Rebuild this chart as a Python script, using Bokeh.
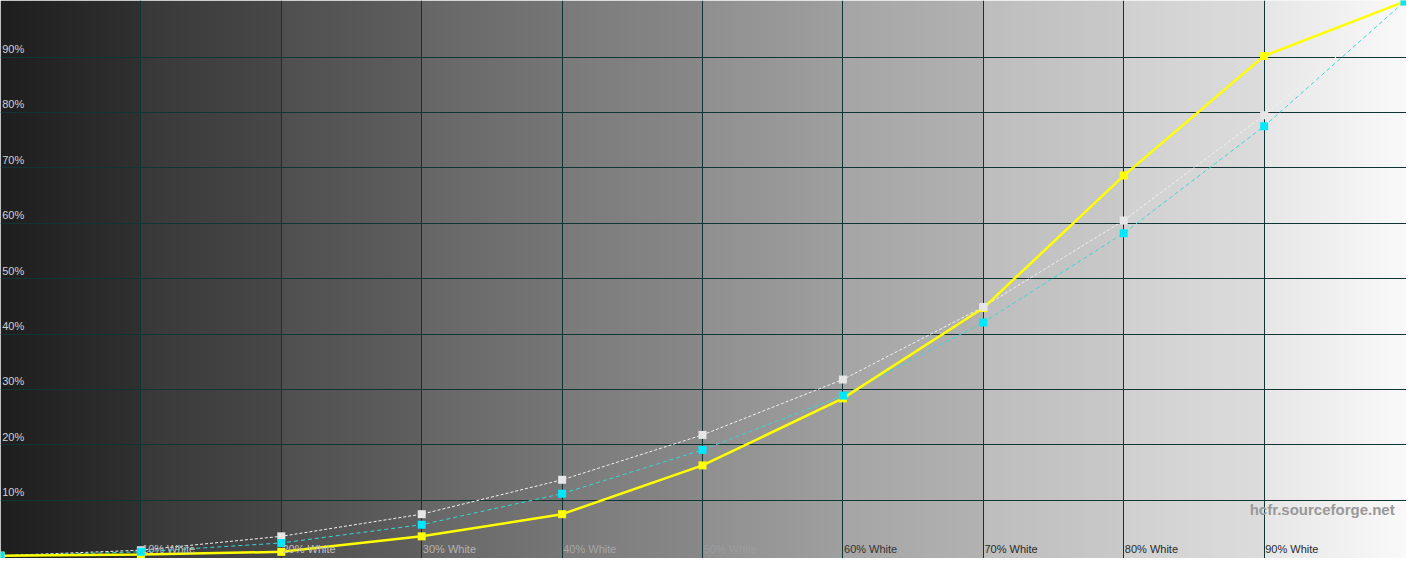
import numpy as np
from bokeh.plotting import figure
from bokeh.models import FixedTicker, ColumnDataSource, Label
from bokeh.core.properties import value
from bokeh.embed import file_html
from bokeh.resources import INLINE

# ---- data ----
levels = [0, 10, 20, 30, 40, 50, 60, 70, 80, 90, 100]
measured = [0, 0.2, 0.7, 3.5, 7.5, 16.3, 28.4, 44.7, 68.6, 90.2, 100]
reference_white = [0, 1.0, 3.5, 7.5, 13.7, 21.8, 31.8, 44.9, 60.5, 79.5, 100]
target_cyan = [0, 0.7, 2.3, 5.6, 11.2, 19.1, 28.9, 42.1, 58.2, 77.5, 100]
y_tick_labels = ["10%", "20%", "30%", "40%", "50%", "60%", "70%", "80%", "90%"]
y_tick_values = [10, 20, 30, 40, 50, 60, 70, 80, 90]
x_tick_labels = ["10% White", "20% White", "30% White", "40% White", "50% White",
                 "60% White", "70% White", "80% White", "90% White"]
x_tick_values = [10, 20, 30, 40, 50, 60, 70, 80, 90]
# background gray ramp per column (start, end)
col_start = [0x1e, 0x38, 0x4f, 0x66, 0x7a, 0x8f, 0xa5, 0xbd, 0xd0, 0xe6]
col_end = [0x30, 0x48, 0x5f, 0x76, 0x88, 0x9f, 0xb2, 0xc9, 0xdc, 0xf9]

W, H = 1406, 558
p = figure(width=W, height=H, x_range=(0, 100.14), y_range=(-0.5, 100.2),
           output_backend="svg", toolbar_location=None, min_border=0)
p.axis.visible = False
p.outline_line_color = None
p.background_fill_color = "#fafafa"
p.border_fill_color = "#fafafa"

# gradient background
per = 142
row = []
for s, e in zip(col_start, col_end):
    row.extend(np.linspace(s, e, per))
g = np.array(row).round().astype(np.uint32)
img = (255 << 24) | (g << 16) | (g << 8) | g
img = np.repeat(img.reshape(1, -1), 4, axis=0)
bg = p.image_rgba(image=[img], x=0, y=-0.5, dw=100, dh=100.7)
bg.level = "image"

# grid
p.xgrid.ticker = FixedTicker(ticks=x_tick_values)
p.ygrid.ticker = FixedTicker(ticks=y_tick_values)
for gr in (p.xgrid, p.ygrid):
    gr.grid_line_color = "#113434"
    gr.grid_line_width = 1
    gr.grid_line_alpha = 1
    gr.level = "underlay"

# lines
p.line(levels, reference_white, line_color="#f2f2f2", line_width=1, line_dash="3 2")
p.line(levels, target_cyan, line_color="#3ad6d6", line_width=1, line_dash="4 3")
p.line(levels, measured, line_color="#ffff00", line_width=2.5)

# markers
p.scatter(levels, measured, marker="square", size=8, fill_color="#ffff00", line_color=None)
p.scatter(levels, reference_white, marker="square", size=8, fill_color="#e6e6e6", line_color=None)
p.scatter(levels, target_cyan, marker="square", size=8, fill_color="#00e8ff", line_color=None)

# y labels
ysrc = ColumnDataSource(dict(x=[0.12] * len(y_tick_values), y=y_tick_values, t=y_tick_labels))
p.text(x="x", y="y", text="t", source=ysrc, text_font=value("Liberation Sans"),
       text_font_size="11px", text_color="#d2d2d2", text_baseline="bottom", y_offset=-2)

# x labels
xcolors = ["#c0c0c0", "#c0c0c0", "#b4b4b4", "#a6a6a6", "#9c9c9c",
           "#333333", "#2a2a2a", "#2a2a2a", "#2a2a2a"]
xsrc = ColumnDataSource(dict(x=[v + 0.08 for v in x_tick_values], y=[0] * 9,
                             t=x_tick_labels, c=xcolors))
p.text(x="x", y="y", text="t", text_color="c", source=xsrc,
       text_font=value("Liberation Sans"), text_font_size="11px",
       text_baseline="bottom", y_offset=-1)

p.add_layout(Label(x=99.3, y=8.4, text="hcfr.sourceforge.net", text_align="right",
                   text_baseline="middle", text_font="Liberation Sans",
                   text_font_size="15px", text_font_style="bold", text_color="#999999"))

open("out.html", "w").write(file_html(p, INLINE))
